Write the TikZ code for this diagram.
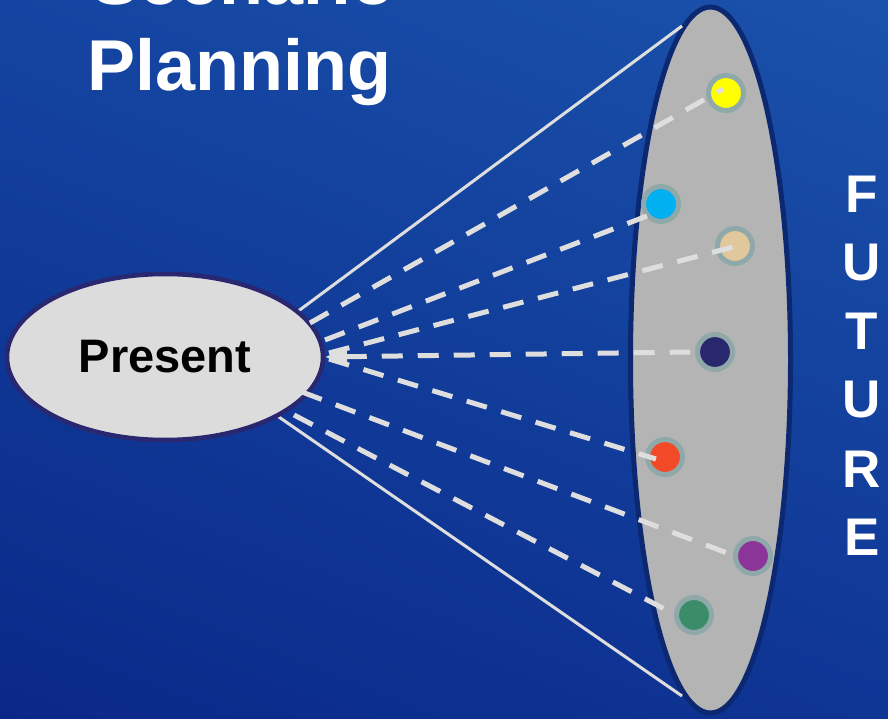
\documentclass[tikz,border=0pt]{standalone}
\usepackage{fontspec}
\setmainfont{Liberation Sans}
\usetikzlibrary{shapes.geometric,arrows.meta,shadings}

\definecolor{bgUL}{HTML}{1444A1}
\definecolor{bgUR}{HTML}{1A52AB}
\definecolor{bgLL}{HTML}{0A2888}
\definecolor{bgLR}{HTML}{0F3595}
\definecolor{presentfill}{HTML}{DCDCDC}
\definecolor{presentborder}{HTML}{28276F}
\definecolor{futurefill}{HTML}{B4B4B4}
\definecolor{futureborder}{HTML}{0B2870}
\definecolor{ringcol}{HTML}{8FA9AB}
\definecolor{linecol}{HTML}{DEDEDE}
\definecolor{cYellow}{HTML}{FFFF00}
\definecolor{cCyan}{HTML}{00B0F0}
\definecolor{cTan}{HTML}{E0C89C}
\definecolor{cNavy}{HTML}{29276E}
\definecolor{cRed}{HTML}{F24A28}
\definecolor{cPurple}{HTML}{8A3597}
\definecolor{cGreen}{HTML}{3A8D68}

\begin{document}
\begin{tikzpicture}[x=1pt,y=-1pt,
  presentnode/.style={ellipse, draw=presentborder, line width=4.5pt, fill=presentfill,
    minimum width=316pt, minimum height=166pt, inner sep=0pt,
    font=\bfseries\fontsize{47}{47}\selectfont},
  futurenode/.style={ellipse, draw=futureborder, line width=5pt, fill=futurefill,
    minimum width=160pt, minimum height=706pt, inner sep=0pt},
  scen/.style={circle, draw=ringcol, line width=5pt, minimum size=35pt, inner sep=0pt, fill=#1},
  solidline/.style={draw=linecol, line width=3pt},
  dashline/.style={draw=linecol, line width=5pt, dash pattern=on 21pt off 15pt},
  titletext/.style={anchor=base west, inner sep=0pt, text=white,
    font=\bfseries\fontsize{72}{72}\selectfont},
  letter/.style={inner sep=0pt, text=white, font=\bfseries\fontsize{53}{53}\selectfont}
]
\useasboundingbox (0,0) rectangle (888,719);
\clip (0,0) rectangle (888,719);

% background
\shade[upper left=bgUL, upper right=bgUR, lower left=bgLL, lower right=bgLR]
  (0,0) rectangle (888,719);

% title
\node[titletext] (title1) at (91,5) {Scenario};
\node[titletext] (title2) at (87.5,91) {Planning};

% the future range
\node[futurenode] (future) at (710.5,360) {};

% bounding lines of the cone
\coordinate (ptop) at (297,312);
\coordinate (pbot) at (276,415);
\coordinate (ftop) at (682,26);
\coordinate (fbot) at (682,696);
\draw[solidline] (ptop) -- (ftop);
\draw[solidline] (pbot) -- (fbot);

% present
\node[presentnode] (present) at (165,357) {Present};

% scenarios
\node[scen=cYellow] (sYellow) at (726,93) {};
\node[scen=cCyan]   (sCyan)   at (661,204) {};
\node[scen=cTan]    (sTan)    at (735,246) {};
\node[scen=cRed]    (sRed)    at (665,457) {};

% start points on the present
\coordinate (aYellow) at (310,323);
\coordinate (aCyan)   at (325,340);
\coordinate (aTan)    at (329,353);
\coordinate (aNavy)   at (325,357);
\coordinate (aRed)    at (329,359);
\coordinate (aPurple) at (302,392);
\coordinate (aGreen)  at (294,415);

% end points
\coordinate (eYellow) at (723,89);
\coordinate (eCyan)   at (647,216);
\coordinate (eTan)    at (733,247);
\coordinate (eRed)    at (656,459);

\draw[dashline] (aYellow) -- (eYellow);
\draw[dashline] (aCyan) -- (eCyan);
\draw[dashline] (aTan) -- (eTan);
\draw[dashline] (aRed) -- (eRed);
\draw[dashline] (aPurple) -- (735,556) coordinate (ePurple);
\draw[dashline] (aGreen) -- (676,615) coordinate (eGreen);
\draw[dashline, {Triangle[length=22pt,width=17pt]}-] (aNavy) -- (690,352) coordinate (eNavy);

\node[scen=cNavy]   (sNavy)   at (715,352) {};
\node[scen=cPurple] (sPurple) at (753,556) {};
\node[scen=cGreen]  (sGreen)  at (694,615) {};

% future label
\node[letter] (f1) at (862,194) {F};
\node[letter] (f2) at (862,263) {U};
\node[letter] (f3) at (862,331) {T};
\node[letter] (f4) at (862,400) {U};
\node[letter] (f5) at (862,469) {R};
\node[letter] (f6) at (862,537) {E};
\end{tikzpicture}
\end{document}
